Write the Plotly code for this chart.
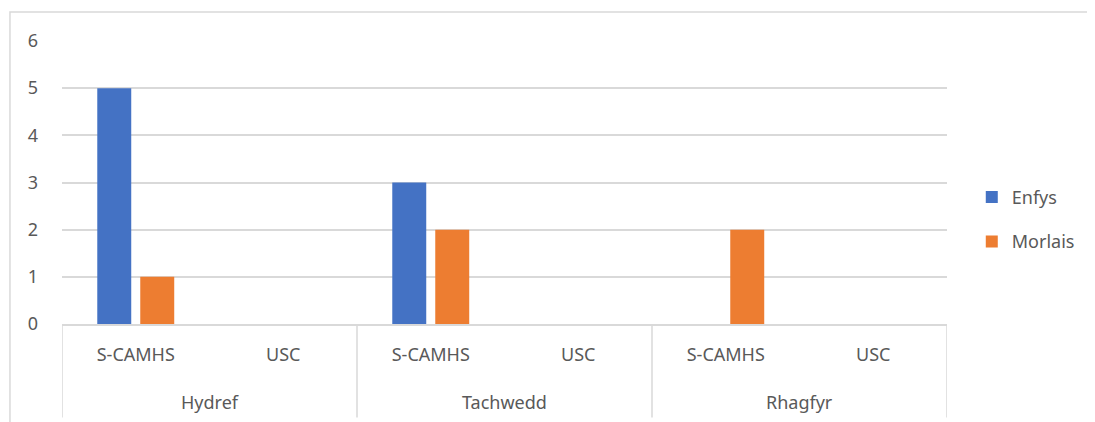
import plotly.graph_objects as go

months = ["Hydref", "Tachwedd", "Rhagfyr"]
services = ["S-CAMHS", "USC", "S-CAMHS", "USC", "S-CAMHS", "USC"]
enfys = [5, 0, 3, 0, 0, 0]
morlais = [1, 0, 2, 0, 2, 0]

font = dict(family="Noto Sans, Open Sans, sans-serif", size=18, color="#595959")
grey = "#d9d9d9"

pos = list(range(len(services)))

fig = go.Figure()
fig.add_bar(x=pos, y=enfys, name="Enfys",
            marker=dict(color="#4472C4", line_width=0), legendgroup="a")
fig.add_bar(x=pos, y=morlais, name="Morlais",
            marker=dict(color="#ED7D31", line_width=0), legendgroup="b")

# month group labels and the divider lines below the axis
shapes = [dict(type="rect", xref="paper", yref="paper",
               x0=-0.0588, x1=1.2, y0=-0.5, y1=1.1025,
               line=dict(color=grey, width=1.5))]
annotations = []
per = len(services) // len(months)
for i, m in enumerate(months):
    annotations.append(dict(x=i * per + (per - 1) / 2, xref="x", y=-0.276, yref="paper",
                            text=m, showarrow=False, font=font,
                            xanchor="center", yanchor="middle"))
for i in range(len(months) + 1):
    shapes.append(dict(type="line", xref="x", yref="paper",
                       x0=i * per - 0.5, x1=i * per - 0.5, y0=0, y1=-0.33,
                       line=dict(color=grey, width=1.5)))

# page body adds an 8px offset, so margins are shifted by that
fig.update_layout(
    width=1095, height=422,
    margin=dict(l=54, r=156, t=33, b=106),
    paper_bgcolor="white", plot_bgcolor="white",
    font=font,
    barmode="group", bargap=0.417, bargroupgap=0.21,
    showlegend=True,
    legend=dict(x=1.028, y=0.37, xanchor="left", yanchor="middle",
                tracegroupgap=18, font=font),
    xaxis=dict(range=[-0.5, len(services) - 0.5], tickvals=pos, ticktext=services,
               showgrid=False, zeroline=False,
               showline=True, linecolor=grey, linewidth=1.5,
               ticklabelstandoff=14, tickfont=font),
    yaxis=dict(range=[0, 6], dtick=1, showgrid=True, gridcolor=grey,
               gridwidth=1.5, zeroline=False, showline=False,
               ticklabelstandoff=23, tickfont=font),
    shapes=shapes,
    annotations=annotations,
)

fig.write_html("out.html")
